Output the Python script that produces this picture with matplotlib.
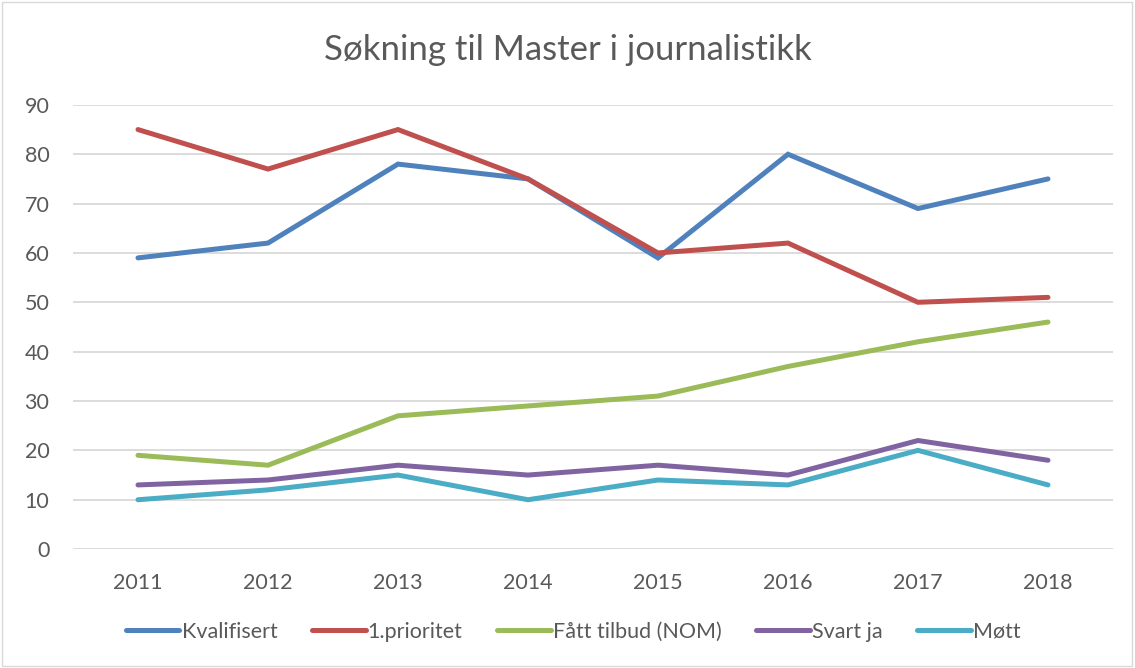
import numpy as np
import matplotlib.pyplot as plt

plt.rcParams['font.family'] = ['Lato', 'DejaVu Sans']

years = ['2011', '2012', '2013', '2014', '2015', '2016', '2017', '2018']
kvalifisert = [59, 62, 78, 75, 59, 80, 69, 75]
prioritet = [85, 77, 85, 75, 60, 62, 50, 51]
tilbud = [19, 17, 27, 29, 31, 37, 42, 46]
svart_ja = [13, 14, 17, 15, 17, 15, 22, 18]
mott = [10, 12, 15, 10, 14, 13, 20, 13]

series = [
    ('Kvalifisert', kvalifisert, '#4F81BD'),
    ('1.prioritet', prioritet, '#C0504D'),
    ('Fått tilbud (NOM)', tilbud, '#9BBB59'),
    ('Svart ja', svart_ja, '#8064A2'),
    ('Møtt', mott, '#4BACC6'),
]

fig = plt.figure(figsize=(11.35, 6.68), dpi=100)
ax = fig.add_axes([0.0643, 0.178, 0.9163, 0.665])

x = np.arange(len(years))
for name, vals, col in series:
    ax.plot(x, vals, color=col, lw=3.6, solid_capstyle='round',
            solid_joinstyle='miter', label=name)

ax.set_xlim(-0.5, len(years) - 0.5)
ax.set_ylim(0, 90)
ax.set_yticks(range(0, 91, 10))
ax.set_xticks(x)
ax.set_xticklabels(years)
ax.tick_params(length=0, labelsize=15.5, colors='#595959')
ax.tick_params(axis='x', pad=17)
ax.tick_params(axis='y', pad=17)
ax.grid(axis='y', color='#D9D9D9', lw=1.3)
ax.set_axisbelow(True)
for s in ax.spines.values():
    s.set_visible(False)

fig.text(0.5, 0.925, 'Søkning til Master i journalistikk', ha='center',
         va='center', fontsize=25, color='#595959')

fig.legend(*ax.get_legend_handles_labels(), loc='center',
           bbox_to_anchor=(0.505, 0.054), ncol=5,
           frameon=False, fontsize=15.5, labelcolor='#595959',
           handlelength=2.5, handletextpad=0.1, columnspacing=1.6)

# thin outer border like the Excel chart area
fig.patches.append(plt.Rectangle((0.002, 0.003), 0.995, 0.994,
                                 transform=fig.transFigure, fill=False,
                                 ec='#D9D9D9', lw=1))

fig.savefig('out.png', dpi=100)
